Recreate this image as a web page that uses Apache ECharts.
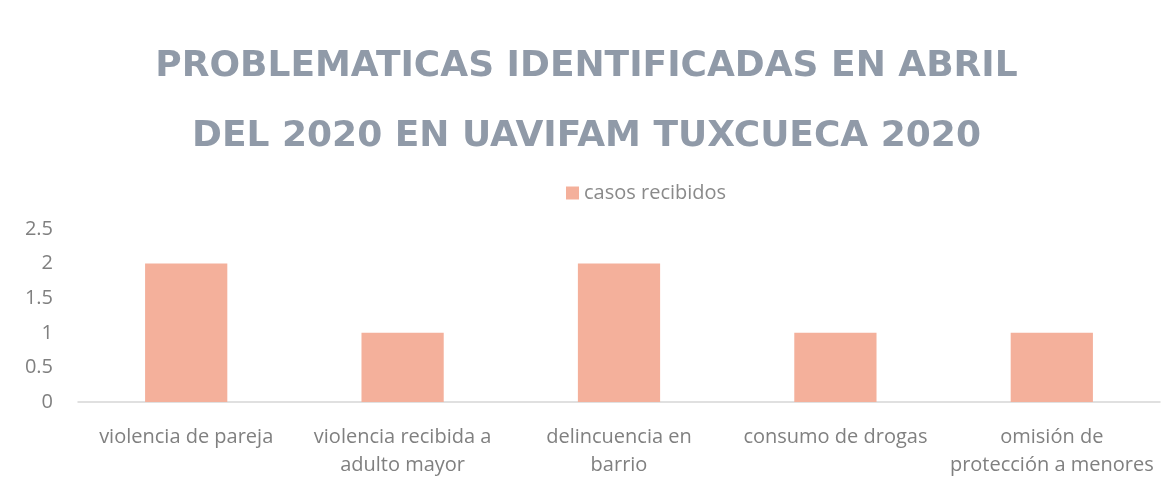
<!DOCTYPE html>
<html>
<head>
<meta charset="utf-8">
<script src="https://cdn.jsdelivr.net/npm/echarts@6/dist/echarts.min.js"></script>
<style>
  html, body { margin: 0; padding: 0; background: #fff; }
  #chart { width: 1173px; height: 487px; }
</style>
</head>
<body>
<div id="chart"></div>
<script>
var categories = ['violencia de pareja', 'violencia recibida a\nadulto mayor', 'delincuencia en\nbarrio', 'consumo de drogas', 'omisión de\nprotección a menores'];
var casos = [2, 1, 2, 1, 1];
var yTicks = [0, 0.5, 1, 1.5, 2, 2.5];

var chart = echarts.init(document.getElementById('chart'));
var option = {
    backgroundColor: '#fff',
    title: {
        text: 'PROBLEMATICAS IDENTIFICADAS EN ABRIL\nDEL 2020 EN UAVIFAM TUXCUECA 2020',
        left: 'center',
        top: 27,
        textStyle: {
            fontFamily: 'DejaVu Sans',
            fontWeight: 'bold',
            fontSize: 36,
            lineHeight: 70,
            color: '#909aa8'
        }
    },
    legend: {
        left: 561,
        top: 178,
        itemWidth: 13,
        itemHeight: 13,
        itemGap: 8,
        icon: 'rect',
        textStyle: {
            fontFamily: 'Open Sans',
            fontSize: 20,
            color: '#8a8a8a'
        }
    },
    grid: {
        left: 78,
        right: 13,
        top: 229,
        bottom: 85,
        containLabel: false
    },
    xAxis: {
        type: 'category',
        data: categories,
        axisLine: { lineStyle: { color: '#d6d6d6', width: 1.5 } },
        axisTick: { show: false },
        axisLabel: {
            fontFamily: 'Open Sans',
            fontSize: 20,
            color: '#808080',
            margin: 21,
            lineHeight: 28,
            interval: 0
        }
    },
    yAxis: {
        type: 'value',
        min: yTicks[0],
        max: yTicks[yTicks.length - 1],
        interval: 0.5,
        axisLine: { show: false },
        axisTick: { show: false },
        splitLine: { show: false },
        axisLabel: {
            fontFamily: 'Open Sans',
            fontSize: 20,
            color: '#808080',
            margin: 25
        }
    },
    series: [{
        name: 'casos recibidos',
        type: 'bar',
        data: casos,
        barWidth: '38%',
        itemStyle: { color: '#f4b09b' }
    }]
};
chart.setOption(option);
</script>
</body>
</html>
